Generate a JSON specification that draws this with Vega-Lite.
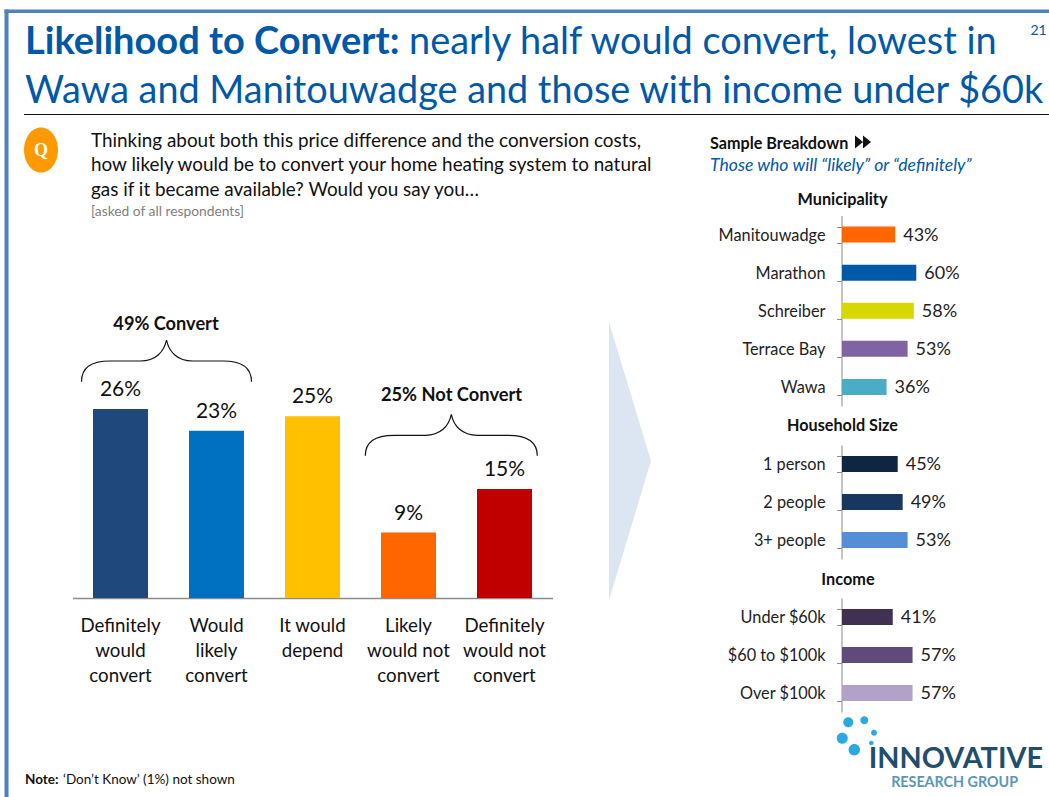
{
  "$schema": "https://vega.github.io/schema/vega-lite/v6.json",
  "width": 1049,
  "height": 797,
  "padding": 0,
  "autosize": {"type": "none"},
  "background": "white",
  "config": {"view": {"stroke": null}, "font": "Lato", "text": {"font": "Lato"}},
  "datasets": {
    "likelihood": [
      {"response": "Definitely would convert", "share": 0.26},
      {"response": "Would likely convert", "share": 0.23},
      {"response": "It would depend", "share": 0.25},
      {"response": "Likely would not convert", "share": 0.09},
      {"response": "Definitely would not convert", "share": 0.15}
    ],
    "municipality": [
      {"group": "Manitouwadge", "share": 0.43},
      {"group": "Marathon", "share": 0.60},
      {"group": "Schreiber", "share": 0.58},
      {"group": "Terrace Bay", "share": 0.53},
      {"group": "Wawa", "share": 0.36}
    ],
    "household": [
      {"group": "1 person", "share": 0.45},
      {"group": "2 people", "share": 0.49},
      {"group": "3+ people", "share": 0.53}
    ],
    "income": [
      {"group": "Under $60k", "share": 0.41},
      {"group": "$60 to $100k", "share": 0.57},
      {"group": "Over $100k", "share": 0.57}
    ]
  },
  "data": {"values": [{"slide": 21}]},
  "resolve": {
    "scale": {"x": "independent", "y": "independent", "color": "independent"},
    "axis": {"x": "independent", "y": "independent"}
  },
  "layer": [
    {"mark": {"type": "rect", "x": 4.5, "x2": 8.5, "y": 9.5, "y2": 797, "fill": "#4f81bd"}, "encoding": {}},
    {"mark": {"type": "rect", "x": 4.5, "x2": 1049, "y": 9.5, "y2": 13, "fill": "#4f81bd"}, "encoding": {}},
    {"mark": {"type": "rect", "x": 24, "x2": 1049, "y": 114, "y2": 115, "fill": "#111111"}, "encoding": {}},

    {"mark": {"type": "text", "text": "Likelihood to Convert:", "x": 25, "y": 43, "align": "left", "baseline": "middle", "fontSize": 38, "fontWeight": "bold", "color": "#0058a8"}},
    {"mark": {"type": "text", "text": "nearly half would convert, lowest in", "x": 409, "y": 43, "align": "left", "baseline": "middle", "fontSize": 37.9, "color": "#0058a8"}},
    {"mark": {"type": "text", "text": "Wawa and Manitouwadge and those with income under $60k", "x": 25, "y": 92, "align": "left", "baseline": "middle", "fontSize": 37.8, "color": "#0058a8"}},
    {"mark": {"type": "text", "text": "21", "x": 1038.5, "y": 31, "align": "center", "baseline": "middle", "fontSize": 14, "color": "#0058a8"}},

    {"mark": {"type": "point", "shape": "M-17,0A17,22.5 0 1,0 17,0A17,22.5 0 1,0 -17,0Z", "size": 4, "x": 41, "y": 150, "filled": true, "fill": "#ff9900", "stroke": null, "opacity": 1}},
    {"mark": {"type": "text", "text": "Q", "x": 41, "y": 151, "align": "center", "baseline": "middle", "font": "Liberation Serif", "fontSize": 18, "fontWeight": "bold", "color": "white"}},
    {"mark": {"type": "text", "text": ["Thinking about both this price difference and the conversion costs,", "how likely would be to convert your home heating system to natural", "gas if it became available? Would you say you…"], "x": 91, "y": 131.5, "align": "left", "baseline": "top", "fontSize": 18.9, "lineHeight": 24.5, "color": "#111111"}},
    {"mark": {"type": "text", "text": "[asked of all respondents]", "x": 91, "y": 212, "align": "left", "baseline": "middle", "fontSize": 13.8, "color": "#7f7f7f"}},
    {"mark": {"type": "text", "text": "Note:", "x": 25, "y": 780, "align": "left", "baseline": "middle", "fontSize": 13.5, "fontWeight": "bold", "color": "#111111"}},
    {"mark": {"type": "text", "text": "‘Don’t Know’ (1%) not shown", "x": 63, "y": 780, "align": "left", "baseline": "middle", "fontSize": 13.5, "color": "#111111"}},

    {"mark": {"type": "text", "text": "49% Convert", "x": 166, "y": 325, "align": "center", "baseline": "middle", "fontSize": 18.2, "fontWeight": "bold", "color": "#111111"}},
    {"mark": {"type": "text", "text": "25% Not Convert", "x": 451.5, "y": 396, "align": "center", "baseline": "middle", "fontSize": 18.3, "fontWeight": "bold", "color": "#111111"}},
    {"mark": {"type": "point", "shape": "M-85,20.7C-85,7 -76,0 -56.5,0L-26,0C-11,0 -2.5,-9 0,-21C2.5,-9 11,0 26,0L56.5,0C76,0 85,7 85,20.7", "size": 4, "x": 166.5, "y": 361, "filled": false, "stroke": "#111111", "strokeWidth": 1.2, "opacity": 1}},
    {"mark": {"type": "point", "shape": "M-86,20.5C-86,7 -77,0 -57,0L-26,0C-11,0 -2.5,-9 0,-21C2.5,-9 11,0 26,0L57,0C77,0 86,7 86,20.5", "size": 4, "x": 451.3, "y": 435.3, "filled": false, "stroke": "#111111", "strokeWidth": 1.2, "opacity": 1}},
    {"mark": {"type": "point", "shape": "M-21,-139L21,0L-21,139Z", "size": 4, "x": 630, "y": 461, "filled": true, "fill": "#dce6f2", "stroke": null, "opacity": 1}},

    {
      "data": {"name": "likelihood"},
      "encoding": {
        "x": {
          "field": "response", "type": "nominal", "sort": null,
          "scale": {"range": [72.5, 552.5], "paddingInner": 0.427, "paddingOuter": 0.2135},
          "axis": {
            "title": null, "orient": "bottom", "offset": -199, "ticks": false, "grid": false,
            "domainColor": "#8c8c8c", "domainWidth": 1.3, "labelAngle": 0, "labelFontSize": 18.7, "labelColor": "#111111",
            "labelFont": "Lato", "labelPadding": 18, "labelLineHeight": 25, "labelLimit": 0,
            "labelExpr": "{'Definitely would convert':['Definitely','would','convert'],'Would likely convert':['Would','likely','convert'],'It would depend':['It would','depend'],'Likely would not convert':['Likely','would not','convert'],'Definitely would not convert':['Definitely','would not','convert']}[datum.value]"
          }
        },
        "y": {"field": "share", "type": "quantitative", "scale": {"domain": [0, 0.3], "range": [598, 380]}, "axis": null}
      },
      "layer": [
        {
          "mark": {"type": "bar", "stroke": null},
          "encoding": {
            "color": {
              "field": "response", "type": "nominal", "legend": null,
              "scale": {
                "domain": ["Definitely would convert", "Would likely convert", "It would depend", "Likely would not convert", "Definitely would not convert"],
                "range": ["#1f497d", "#0070c0", "#ffc000", "#ff6600", "#c00000"]
              }
            }
          }
        },
        {
          "mark": {"type": "text", "baseline": "middle", "dy": -19, "fontSize": 21, "color": "#111111"},
          "encoding": {"text": {"field": "share", "type": "quantitative", "format": ".0%"}}
        }
      ]
    },

    {"mark": {"type": "text", "text": "Sample Breakdown", "x": 710, "y": 144, "align": "left", "baseline": "middle", "fontSize": 16.2, "fontWeight": "bold", "color": "#111111"}},
    {"mark": {"type": "point", "shape": "M-8,-6.5L0,0L-8,6.5ZM0,-6.5L8,0L0,6.5Z", "size": 4, "x": 863, "y": 142, "filled": true, "fill": "#111111", "stroke": null, "opacity": 1}},
    {"mark": {"type": "text", "text": "Those who will “likely” or “definitely”", "x": 710, "y": 166, "align": "left", "baseline": "middle", "fontSize": 17.6, "fontStyle": "italic", "color": "#0058a8"}},
    {"mark": {"type": "text", "text": "Municipality", "x": 842.5, "y": 200, "align": "center", "baseline": "middle", "fontSize": 16.3, "fontWeight": "bold", "color": "#111111"}},
    {"mark": {"type": "text", "text": "Household Size", "x": 842.5, "y": 426, "align": "center", "baseline": "middle", "fontSize": 16.2, "fontWeight": "bold", "color": "#111111"}},
    {"mark": {"type": "text", "text": "Income", "x": 848, "y": 580, "align": "center", "baseline": "middle", "fontSize": 16.3, "fontWeight": "bold", "color": "#111111"}},

    {
      "data": {"name": "municipality"},
      "encoding": {
        "x": {"field": "share", "type": "quantitative", "scale": {"domain": [0, 1], "range": [842, 965.8]}, "axis": null},
        "y": {
          "field": "group", "type": "nominal", "sort": null,
          "scale": {"range": [215.5, 406], "paddingInner": 0.58, "paddingOuter": 0.29},
          "axis": {"title": null, "orient": "left", "offset": -841.5, "tickBand": "extent", "tickSize": 5, "grid": false, "domainColor": "#8c8c8c", "tickColor": "#8c8c8c", "labelFontSize": 16.3, "labelColor": "#222222", "labelFont": "Lato", "labelPadding": 11.5, "labelOffset": 0.5}
        }
      },
      "layer": [
        {
          "mark": {"type": "bar", "stroke": null},
          "encoding": {
            "color": {
              "field": "group", "type": "nominal", "legend": null,
              "scale": {
                "domain": ["Manitouwadge", "Marathon", "Schreiber", "Terrace Bay", "Wawa"],
                "range": ["#ff6600", "#0058a8", "#d8d800", "#8064a2", "#4bacc6"]
              }
            }
          }
        },
        {
          "mark": {"type": "text", "align": "left", "baseline": "middle", "dx": 8, "dy": 1.5, "fontSize": 18, "color": "#222222"},
          "encoding": {"text": {"field": "share", "type": "quantitative", "format": ".0%"}}
        }
      ]
    },
    {
      "data": {"name": "household"},
      "encoding": {
        "x": {"field": "share", "type": "quantitative", "scale": {"domain": [0, 1], "range": [842, 965.8]}, "axis": null},
        "y": {
          "field": "group", "type": "nominal", "sort": null,
          "scale": {"range": [445, 559], "paddingInner": 0.58, "paddingOuter": 0.29},
          "axis": {"title": null, "orient": "left", "offset": -841.5, "tickBand": "extent", "tickSize": 5, "grid": false, "domainColor": "#8c8c8c", "tickColor": "#8c8c8c", "labelFontSize": 16.3, "labelColor": "#222222", "labelFont": "Lato", "labelPadding": 11.5, "labelOffset": 0}
        }
      },
      "layer": [
        {
          "mark": {"type": "bar", "stroke": null},
          "encoding": {
            "color": {
              "field": "group", "type": "nominal", "legend": null,
              "scale": {"domain": ["1 person", "2 people", "3+ people"], "range": ["#10253f", "#17375e", "#558ed5"]}
            }
          }
        },
        {
          "mark": {"type": "text", "align": "left", "baseline": "middle", "dx": 8, "dy": 1, "fontSize": 18, "color": "#222222"},
          "encoding": {"text": {"field": "share", "type": "quantitative", "format": ".0%"}}
        }
      ]
    },
    {
      "data": {"name": "income"},
      "encoding": {
        "x": {"field": "share", "type": "quantitative", "scale": {"domain": [0, 1], "range": [842, 965.8]}, "axis": null},
        "y": {
          "field": "group", "type": "nominal", "sort": null,
          "scale": {"range": [598, 712], "paddingInner": 0.58, "paddingOuter": 0.29},
          "axis": {"title": null, "orient": "left", "offset": -841.5, "tickBand": "extent", "tickSize": 5, "grid": false, "domainColor": "#8c8c8c", "tickColor": "#8c8c8c", "labelFontSize": 16.3, "labelColor": "#222222", "labelFont": "Lato", "labelPadding": 11.5, "labelOffset": 0}
        }
      },
      "layer": [
        {
          "mark": {"type": "bar", "stroke": null},
          "encoding": {
            "color": {
              "field": "group", "type": "nominal", "legend": null,
              "scale": {"domain": ["Under $60k", "$60 to $100k", "Over $100k"], "range": ["#403152", "#604a7b", "#b3a2c7"]}
            }
          }
        },
        {
          "mark": {"type": "text", "align": "left", "baseline": "middle", "dx": 8, "dy": 1, "fontSize": 18, "color": "#222222"},
          "encoding": {"text": {"field": "share", "type": "quantitative", "format": ".0%"}}
        }
      ]
    },

    {"mark": {"type": "point", "shape": "M-14.7,-12.7A5,5 0 1,0 -4.7,-12.7A5,5 0 1,0 -14.7,-12.7ZM2.3,-14.7A4,4 0 1,0 10.3,-14.7A4,4 0 1,0 2.3,-14.7ZM13,-2.3A3,3 0 1,0 19,-2.3A3,3 0 1,0 13,-2.3ZM-21.2,3.3A5.5,5.5 0 1,0 -10.2,3.3A5.5,5.5 0 1,0 -21.2,3.3ZM-9.4,14.7A5.7,5.7 0 1,0 2,14.7A5.7,5.7 0 1,0 -9.4,14.7ZM11,8A2.3,2.3 0 1,0 15.6,8A2.3,2.3 0 1,0 11,8Z", "size": 4, "x": 858, "y": 735, "filled": true, "fill": "#29a9e0", "stroke": null, "opacity": 1}},
    {"mark": {"type": "text", "text": "INNOVATIVE", "x": 1043, "y": 759, "align": "right", "baseline": "middle", "fontSize": 28.8, "fontWeight": "bold", "color": "#1f4e6e"}},
    {"mark": {"type": "text", "text": "RESEARCH GROUP", "x": 1018, "y": 783, "align": "right", "baseline": "middle", "fontSize": 14.3, "fontWeight": "bold", "color": "#5b97b4"}}
  ]
}
